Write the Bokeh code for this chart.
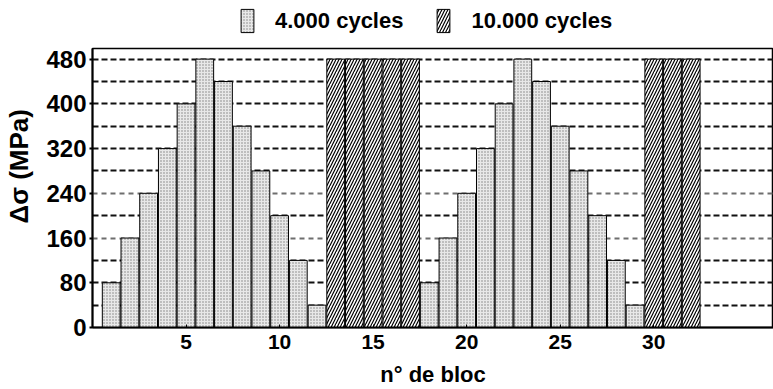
from bokeh.plotting import figure
from bokeh.layouts import column
from bokeh.models import Range1d, FixedTicker, Grid, Legend, LegendItem
from bokeh.embed import file_html
from bokeh.resources import INLINE

# ---- data ----
block_4k = [1, 2, 3, 4, 5, 6, 7, 8, 9, 10, 11, 12,
            18, 19, 20, 21, 22, 23, 24, 25, 26, 27, 28, 29]
delta_4k = [80, 160, 240, 320, 400, 480, 440, 360, 280, 200, 120, 40,
            80, 160, 240, 320, 400, 480, 440, 360, 280, 200, 120, 40]
block_10k = [13, 14, 15, 16, 17, 30, 31, 32]
delta_10k = [480, 480, 480, 480, 480, 480, 480, 480]
x_ticks = [5, 10, 15, 20, 25, 30]
y_ticks = [0, 80, 160, 240, 320, 400, 480]
grid_dark = [40, 80, 120, 200, 280, 320, 360, 400, 440, 480]
grid_gray = [160, 240]
label_4k = "4.000 cycles"
label_10k = "10.000 cycles"

FONT = "Liberation Sans"

STYLE_4K = dict(fill_color="#e8e8e8", line_color="black", line_width=1,
                hatch_pattern="dot", hatch_color="#808080", hatch_scale=3, hatch_weight=1)
STYLE_10K = dict(fill_color="white", line_color="black", line_width=1,
                 hatch_pattern="right_diagonal_line", hatch_color="black",
                 hatch_scale=6, hatch_weight=1.2)

# ---------------- main chart ----------------
p = figure(width=773, height=353, x_range=Range1d(0, 36.4), y_range=Range1d(0, 499),
           output_backend="svg", toolbar_location=None,
           min_border_left=92, min_border_right=0, min_border_top=12, min_border_bottom=61)
p.outline_line_color = "black"
p.outline_line_width = 1.5
p.background_fill_color = "white"
p.xgrid.visible = False
p.ygrid.visible = False

p.add_layout(Grid(dimension=1, ticker=FixedTicker(ticks=grid_dark), grid_line_color="#111111",
                  grid_line_width=2, grid_line_dash="6 3"))
p.add_layout(Grid(dimension=1, ticker=FixedTicker(ticks=grid_gray), grid_line_color="#6e6e6e",
                  grid_line_width=2, grid_line_dash="5 4"))

p.vbar(x=block_4k, top=delta_4k, bottom=0, width=0.95, **STYLE_4K)
p.vbar(x=block_10k, top=delta_10k, bottom=0, width=0.95, **STYLE_10K)

ya = p.yaxis[0]
ya.ticker = FixedTicker(ticks=y_ticks)
ya.minor_tick_line_color = None
ya.major_tick_out = 3
ya.major_tick_in = 0
ya.major_label_standoff = 3
ya.axis_line_width = 2
ya.major_tick_line_width = 2
ya.major_label_text_font = FONT
ya.major_label_text_font_style = "bold"
ya.major_label_text_font_size = "24px"
ya.major_label_text_color = "black"
ya.axis_label = "\u00a0\u00a0\u00a0\u00a0\u00a0\u00a0Δσ (MPa)"
ya.axis_label_text_font = FONT
ya.axis_label_text_font_style = "bold"
ya.axis_label_text_font_size = "26px"
ya.axis_label_text_color = "black"
ya.axis_label_standoff = 9

xb = p.xaxis[0]
xb.ticker = FixedTicker(ticks=x_ticks)
xb.minor_tick_line_color = None
xb.major_tick_in = 3
xb.major_tick_out = 0
xb.axis_line_width = 2
xb.major_label_standoff = 7
xb.major_label_text_font = FONT
xb.major_label_text_font_style = "bold"
xb.major_label_text_font_size = "21px"
xb.major_label_text_color = "black"
xb.axis_label = "n° de bloc"
xb.axis_label_text_font = FONT
xb.axis_label_text_font_style = "bold"
xb.axis_label_text_font_size = "22px"
xb.axis_label_text_color = "black"
xb.axis_label_standoff = 10

# ---------------- legend strip ----------------
lg = figure(width=773, height=36, x_range=Range1d(-3, -2), y_range=Range1d(0, 1),
            output_backend="svg", toolbar_location=None,
            x_axis_location=None, y_axis_location=None,
            min_border_left=92, min_border_right=0, min_border_top=0, min_border_bottom=0)
lg.outline_line_color = None
lg.xgrid.visible = False
lg.ygrid.visible = False
k4 = lg.vbar(x=block_4k, top=delta_4k, width=0.95, **STYLE_4K)
k10 = lg.vbar(x=block_10k, top=delta_10k, width=0.95, **STYLE_10K)
legend = Legend(items=[LegendItem(label=label_4k, renderers=[k4]),
                       LegendItem(label=label_10k, renderers=[k10])],
                orientation="horizontal", location=(147, 1),
                glyph_width=16, glyph_height=29, label_standoff=20, spacing=32,
                border_line_color=None, background_fill_alpha=0, padding=0, margin=0,
                label_text_font=FONT, label_text_font_style="bold",
                label_text_font_size="22px", label_text_color="black")
lg.add_layout(legend, "center")

layout = column(lg, p, spacing=0)
open("out.html", "w").write(file_html(layout, INLINE))
